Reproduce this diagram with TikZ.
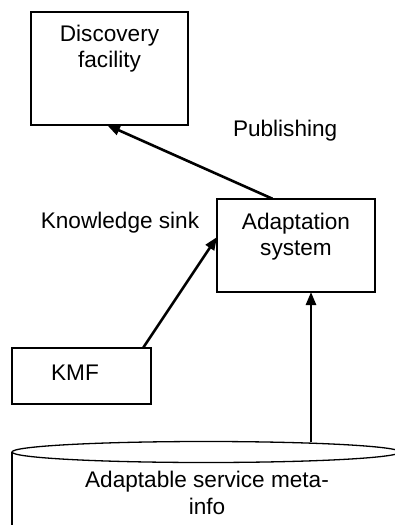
\documentclass[tikz,border=0pt]{standalone}
\usepackage{fontspec}
\setmainfont{Liberation Sans}
\usetikzlibrary{arrows.meta,calc}
\begin{document}
\begin{tikzpicture}[x=1pt,y=-1pt,
  box/.style={draw, line width=1.3pt, minimum width=#1, inner sep=0pt, outer sep=0pt},
  txt/.style={inner sep=0pt, outer sep=0pt, align=center, font={\fontsize{22.6}{25.5}\selectfont}},
  conn/.style={line width=2.6pt, -{Triangle[length=13pt,width=10pt]}, shorten <=0.6pt}
]
\useasboundingbox (0,0) rectangle (395,525);
\clip (0,0) rectangle (395,525);
% boxes
\node[box=157pt, minimum height=113pt] (disc) at (109.5,68.5) {};
\node[txt, anchor=north] (disct) at (109.5,25.6) {Discovery\\facility};
\node[box=158pt, minimum height=93pt] (adapt) at (296,245.5) {};
\node[txt, anchor=north] (adaptt) at (296,213.6) {Adaptation\\system};
\node[box=139pt, minimum height=56pt] (kmf) at (81.5,376) {};
\node[txt, anchor=base] (kmft) at (75,380) {KMF};
% cylinder
\draw[line width=1.3pt] (12,452) -- (12,540);
\draw[line width=1.3pt] (400,452) -- (400,540);
\draw[line width=1.3pt, fill=white] (206,452) ellipse [x radius=194, y radius=10.5];
\coordinate (cyltop) at (311,443);
\node[txt, anchor=north, font={\fontsize{22.6}{27}\selectfont}] (cylt) at (207,471.6) {Adaptable service meta-\\info};
% labels
\node[txt, anchor=base west] (pub) at (233,136) {Publishing};
\node[txt, anchor=base] (ks) at (120,228) {Knowledge sink};
% connectors
\draw[conn] ([xshift=-23pt]adapt.north) -- ([xshift=-2.5pt]disc.south);
\draw[conn] ([xshift=-8pt]kmf.north east) -- ([yshift=8.5pt]adapt.west);
\draw[conn] (cyltop) -- (cyltop |- adapt.south);
\end{tikzpicture}
\end{document}
